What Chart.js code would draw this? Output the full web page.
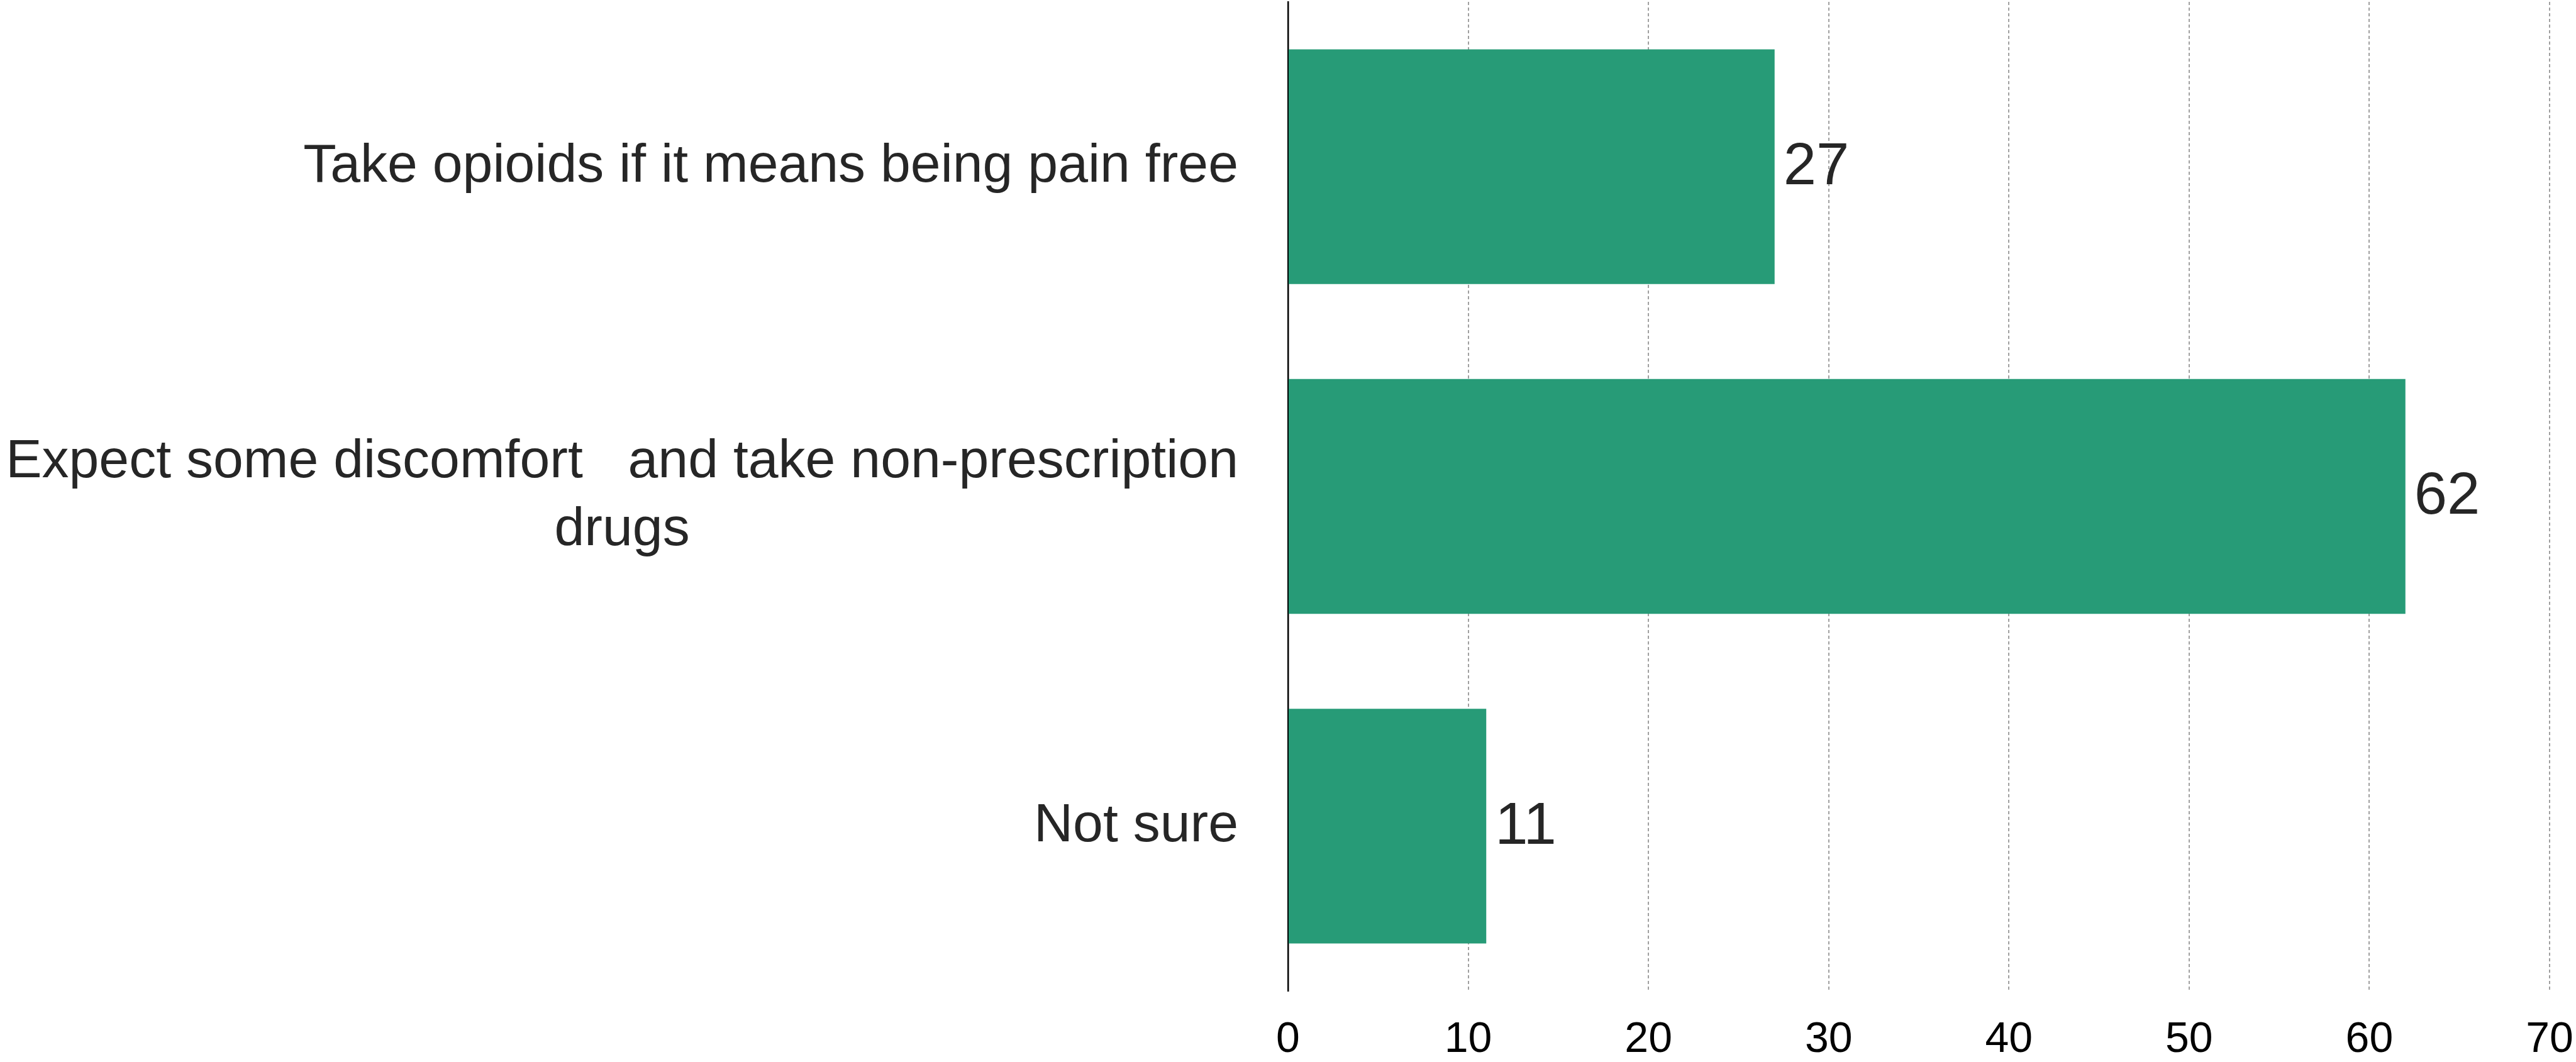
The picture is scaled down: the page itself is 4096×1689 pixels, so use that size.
<!DOCTYPE html>
<html>
<head>
<meta charset="utf-8">
<script src="https://cdn.jsdelivr.net/npm/chart.js@4.4.1/dist/chart.umd.min.js"></script>
<style>
  html, body { margin: 0; padding: 0; background: #fff; }
  #wrap { width: 4096px; height: 1689px; position: relative; }
</style>
</head>
<body>
<div id="wrap"><canvas id="bar-chart"></canvas></div>
<script>
// answers (multi-line labels are arrays) and their shares
const categories = [
  ['Take opioids if it means being pain free'],
  ['Expect some discomfort   and take non-prescription', 'drugs'],
  ['Not sure']
];
const values = [27, 62, 11];
const xMin = 0;
const xMax = 70;
const xStep = 10;

const FONT = "'Liberation Sans', Arial, sans-serif";
const barColor = '#279b77';
const textColor = '#262626';

// y labels: block right-aligned to the axis, lines centred within the block
const categoryLabels = {
  id: 'categoryLabels',
  afterDraw(chart) {
    const ctx = chart.ctx;
    const yScale = chart.scales.y;
    const right = yScale.right - 79;
    const lineGap = 107.5;
    ctx.save();
    ctx.font = '86px ' + FONT;
    ctx.fillStyle = textColor;
    ctx.textAlign = 'center';
    ctx.textBaseline = 'middle';
    categories.forEach((lines, i) => {
      const y = yScale.getPixelForTick(i);
      const widest = Math.max(...lines.map(l => ctx.measureText(l).width));
      const cx = right - widest / 2;
      lines.forEach((line, j) => {
        ctx.fillText(line, cx, y + (j - (lines.length - 1) / 2) * lineGap);
      });
    });
    ctx.restore();
  }
};

// numbers at the end of each bar
const valueLabels = {
  id: 'valueLabels',
  afterDatasetsDraw(chart) {
    const ctx = chart.ctx;
    const meta = chart.getDatasetMeta(0);
    ctx.save();
    ctx.font = '94px ' + FONT;
    ctx.fillStyle = textColor;
    ctx.textAlign = 'left';
    ctx.textBaseline = 'middle';
    meta.data.forEach((bar, i) => {
      ctx.fillText(String(values[i]), bar.x + 14, bar.y + 2);
    });
    ctx.restore();
  }
};

new Chart(document.getElementById('bar-chart'), {
  type: 'bar',
  data: {
    labels: categories,
    datasets: [{
      data: values,
      backgroundColor: barColor,
      borderWidth: 0,
      barPercentage: 0.712,
      categoryPercentage: 1
    }]
  },
  options: {
    indexAxis: 'y',
    responsive: true,
    maintainAspectRatio: false,
    devicePixelRatio: 1,
    animation: false,
    layout: { padding: { top: 3, right: 42, bottom: 0, left: 0 } },
    plugins: {
      legend: { display: false },
      tooltip: { enabled: false },
      title: { display: false }
    },
    scales: {
      x: {
        min: xMin,
        max: xMax,
        grid: {
          drawTicks: false,
          lineWidth: 2,
          color: ctx => ctx.tick && ctx.tick.value === 0 ? 'rgba(0,0,0,0)' : '#a0a0a0'
        },
        border: { display: false, dash: [5, 4] },
        ticks: {
          stepSize: xStep,
          padding: 37,
          color: '#000',
          font: { family: FONT, size: 68, lineHeight: 1.2 }
        },
        afterFit(scale) {
          scale.height = 113;
          // the end labels may overhang the plot area
          scale.paddingLeft = 0;
          scale.paddingRight = 0;
        }
      },
      y: {
        grid: { display: false },
        border: { display: true, color: '#000', width: 2.5 },
        ticks: { display: false },
        afterFit(scale) { scale.width = 2048; }
      }
    }
  },
  plugins: [categoryLabels, valueLabels]
});
</script>
</body>
</html>
